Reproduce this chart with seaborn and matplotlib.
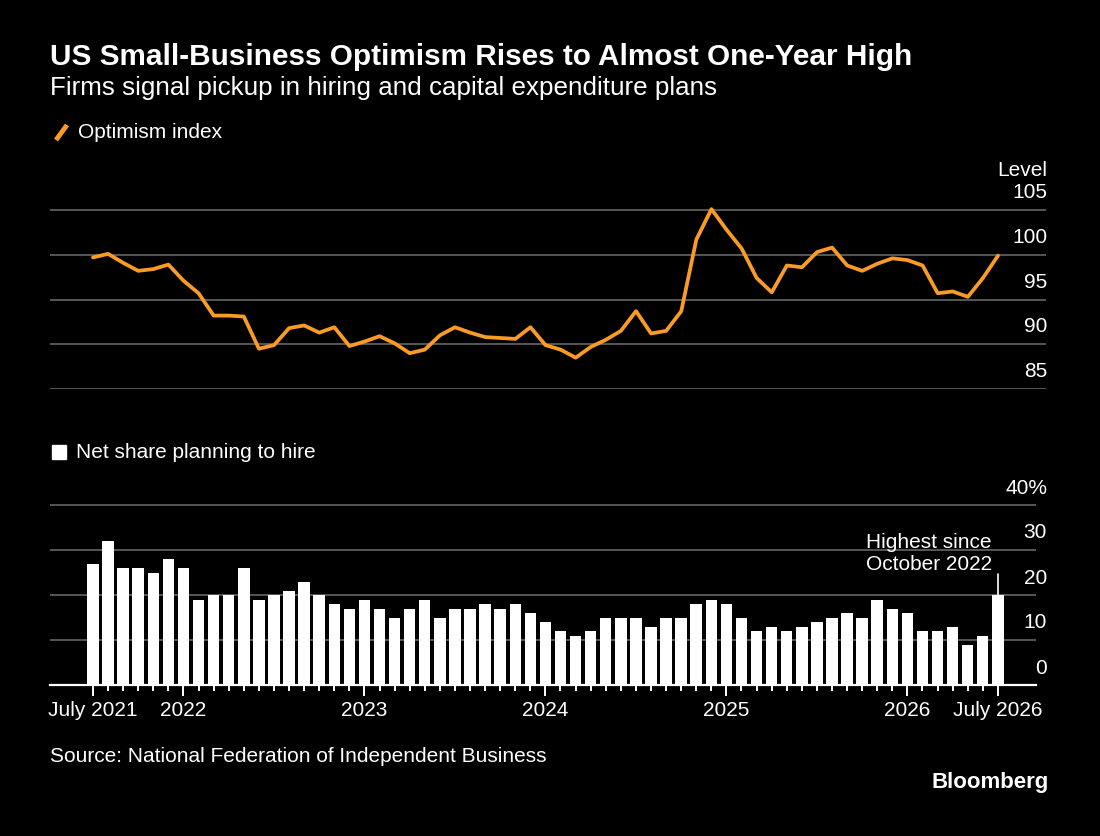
import numpy as np
import pandas as pd
import seaborn as sns
import matplotlib.pyplot as plt
import matplotlib.transforms as mtransforms
from matplotlib.lines import Line2D
from matplotlib.patches import Rectangle

# Monthly data, July 2021 .. July 2026
months = pd.date_range("2021-07-01", "2026-07-01", freq="MS")

optimism = [99.7, 100.1, 99.1, 98.2, 98.4, 98.9, 97.1, 95.7, 93.2, 93.2,
            93.1, 89.5, 89.9, 91.8, 92.1, 91.3, 91.9, 89.8, 90.3, 90.9,
            90.1, 89.0, 89.4, 91.0, 91.9, 91.3, 90.8, 90.7, 90.6, 91.9,
            89.9, 89.4, 88.5, 89.7, 90.5, 91.5, 93.7, 91.2, 91.5, 93.7,
            101.7, 105.1, 102.8, 100.7, 97.4, 95.8, 98.8, 98.6, 100.3, 100.8,
            98.8, 98.2, 99.0, 99.6, 99.4, 98.8, 95.7, 95.9, 95.3, 97.4,
            99.9]

hiring = [27, 32, 26, 26, 25, 28, 26, 19, 20, 20,
          26, 19, 20, 21, 23, 20, 18, 17, 19, 17,
          15, 17, 19, 15, 17, 17, 18, 17, 18, 16,
          14, 12, 11, 12, 15, 15, 15, 13, 15, 15,
          18, 19, 18, 15, 12, 13, 12, 13, 14, 15,
          16, 15, 19, 17, 16, 12, 12, 13, 9, 11,
          20]

level_ticks = [85, 90, 95, 100, 105]
level_labels = ["85", "90", "95", "100", "105"]
pct_ticks = [0, 10, 20, 30, 40]
pct_labels = ["0", "10", "20", "30", "40%"]

year_ticks = [0, 6, 18, 30, 42, 54, 60]
year_labels = ["July 2021", "2022", "2023", "2024", "2025", "2026", "July 2026"]

df = pd.DataFrame({"idx": np.arange(len(months)), "month": months,
                   "optimism": optimism, "hiring": hiring})

ORANGE = "#F99B25"
GRID = "#666666"
W, H = 1100, 837

sns.set_theme(style="dark")
plt.rcParams["font.family"] = ["Liberation Sans", "DejaVu Sans"]
plt.rcParams["text.color"] = "white"

fig = plt.figure(figsize=(W / 100, H / 100), dpi=100, facecolor="black")


def fx(px):
    return px / W


def fy(py):
    return 1 - py / H


# ---- top panel: optimism index
ax1 = fig.add_axes([fx(50), fy(390), fx(1046 - 50), (390 - 175) / H])
ax1.set_facecolor("black")
sns.lineplot(data=df, x="idx", y="optimism", ax=ax1, color=ORANGE,
             linewidth=2.7, legend=False)
ax1.set_xlim(-2.85, 63.18)
ax1.set_ylim(85, 85 + (390 - 175) / 8.95)
ax1.set_yticks(level_ticks)
ax1.grid(axis="y", color=GRID, linewidth=1.2)
ax1.grid(axis="x", visible=False)
ax1.tick_params(left=False, bottom=False, labelleft=False, labelbottom=False)
ax1.set_xlabel("")
ax1.set_ylabel("")
for s in ax1.spines.values():
    s.set_visible(False)

tr1 = mtransforms.blended_transform_factory(fig.transFigure, ax1.transData) + \
    mtransforms.ScaledTranslation(0, 0.185, fig.dpi_scale_trans)
for v, lab in zip(level_ticks, level_labels):
    ax1.text(fx(1047), v, lab, transform=tr1, ha="right", va="center",
             fontsize=15, color="white")
fig.text(fx(1047), fy(170), "Level", ha="right", va="center", fontsize=15)

# ---- bottom panel: hiring plans
ax2 = fig.add_axes([fx(50), fy(686), fx(1036 - 50), (686 - 470) / H])
ax2.set_facecolor("black")
sns.barplot(data=df, x="idx", y="hiring", ax=ax2, color="white",
            width=0.76, saturation=1, edgecolor="none")
ax2.set_xlim(-2.85, 62.53)
ax2.set_ylim(0, 216 / 4.5)
ax2.set_yticks(pct_ticks[1:])
ax2.grid(axis="y", color=GRID, linewidth=1.2)
ax2.grid(axis="x", visible=False)
ax2.set_axisbelow(True)
ax2.set_xlabel("")
ax2.set_ylabel("")
for name, s in ax2.spines.items():
    s.set_visible(name == "bottom")
ax2.spines["bottom"].set_color("white")
ax2.spines["bottom"].set_linewidth(1.6)

ax2.set_xticks(year_ticks)
ax2.set_xticklabels(year_labels)
ax2.set_xticks([i for i in range(len(months)) if i not in year_ticks], minor=True)
ax2.tick_params(axis="x", which="major", direction="out", length=8, width=1.4,
                color="white", labelcolor="white", labelsize=15, pad=3, bottom=True)
ax2.tick_params(axis="x", which="minor", direction="out", length=4.5, width=1.4,
                color="white", bottom=True)
ax2.tick_params(axis="y", left=False, labelleft=False)

tr2 = mtransforms.blended_transform_factory(fig.transFigure, ax2.transData) + \
    mtransforms.ScaledTranslation(0, 0.18, fig.dpi_scale_trans)
for v, lab in zip(pct_ticks, pct_labels):
    ax2.text(fx(1047), v, lab, transform=tr2, ha="right", va="center",
             fontsize=15, color="white")

# annotation on the latest bar
ax2.plot([60, 60], [hiring[-1], 24.6], color="white", linewidth=1.2)
ax2.text(59.6, 25.0, "Highest since\nOctober 2022", ha="right", va="bottom",
         fontsize=15, color="white", linespacing=1.2)

# ---- titles, legends, footer
fig.text(fx(50), fy(57), "US Small-Business Optimism Rises to Almost One-Year High",
         ha="left", va="center", fontsize=21.4, fontweight="bold")
fig.text(fx(50), fy(88), "Firms signal pickup in hiring and capital expenditure plans",
         ha="left", va="center", fontsize=18.7)

fig.add_artist(Line2D([fx(56), fx(67)], [fy(141), fy(126)], color=ORANGE,
                      linewidth=3.5, solid_capstyle="butt"))
fig.text(fx(78), fy(133), "Optimism index", ha="left", va="center", fontsize=15)

fig.add_artist(Rectangle((fx(52), fy(460)), fx(14), 14 / H, color="white",
                         transform=fig.transFigure))
fig.text(fx(76), fy(453), "Net share planning to hire", ha="left", va="center",
         fontsize=15)

fig.text(fx(50), fy(757), "Source: National Federation of Independent Business",
         ha="left", va="center", fontsize=15)
fig.text(fx(1049), fy(783), "Bloomberg", ha="right", va="center", fontsize=16,
         fontweight="bold")

fig.savefig("out.png", dpi=100, facecolor="black")
